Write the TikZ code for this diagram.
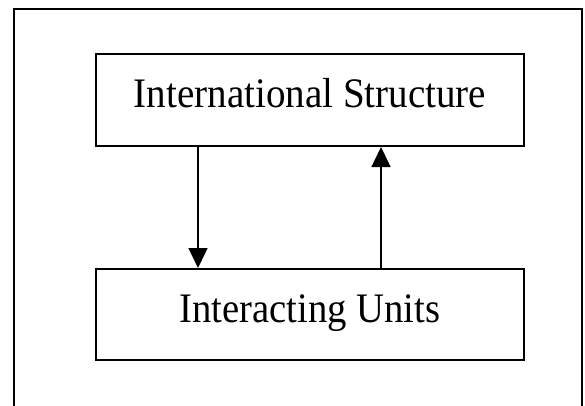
\documentclass[tikz,border=0pt]{standalone}
\usepackage{fontspec}
\setmainfont{Liberation Serif}
\usetikzlibrary{arrows.meta}
\tikzset{
  boxnode/.style={draw=black, line width=2pt, rectangle, inner sep=0pt,
    minimum width=428pt, text height=28pt, text depth=12pt,
    font=\fontsize{42}{50}\selectfont},
  linkarrow/.style={line width=1.5pt, -{Triangle[length=20pt,width=19pt]}},
  frame/.style={line width=2pt}
}
\begin{document}
\begin{tikzpicture}[x=1pt,y=-1pt]
\useasboundingbox (0,0) rectangle (585,406);
\begin{scope}
\clip (0,0) rectangle (585,406);
\draw[frame] (14,420) -- (14,9) -- (582,9) -- (582,420);
\end{scope}
\node[boxnode, minimum height=92pt] (top) at (310,100) {\scalebox{0.93}[1]{International Structure}};
\node[boxnode, minimum height=91pt] (bot) at (310,314.5) {\scalebox{0.92}[1]{Interacting Units}};
\draw[linkarrow] (top.south -| 198,0) -- (bot.north -| 198,0);
\draw[linkarrow] (bot.north -| 381,0) -- (top.south -| 381,0);
\end{tikzpicture}
\end{document}
